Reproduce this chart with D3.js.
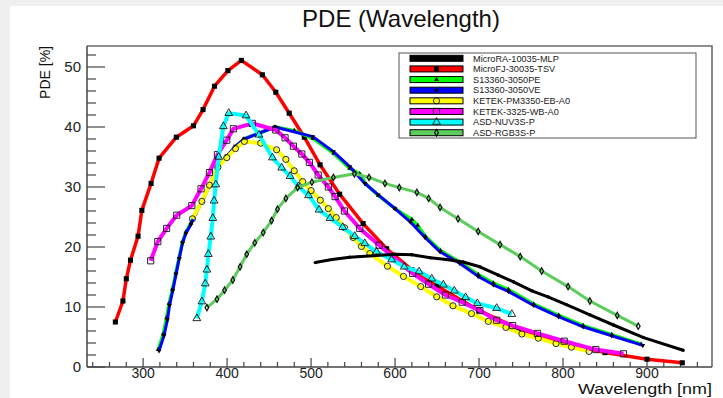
<!DOCTYPE html>
<html><head><meta charset="utf-8">
<script src="https://cdn.jsdelivr.net/npm/d3@7"></script>
<style>
html,body{margin:0;padding:0;background:#f0f0f0;}
svg{display:block;font-family:"Liberation Sans",Arial,Helvetica,sans-serif;}
</style></head><body>
<svg id="chart" width="723" height="398"></svg>
<script>
// Photon detection efficiency vs wavelength, one pair of arrays per sensor
const raWl  = [505,525,546,578,600,620,642,661,681,701,723,741,763,782,804,832,860,896,943];
const raPde = [17.4,17.9,18.3,18.6,18.8,18.7,18.2,17.9,17.5,16.7,15.3,14.2,12.7,11.7,10.4,8.7,7.0,4.9,2.8];

const fjWl  = [267,276,280,285,294,298.5,309.5,319,339.6,360,371.4,385,401,417,442,458,474,492,510.7,534,562,590,620,650,700,747,800,850,900,942];
const fjPde = [7.5,11.0,14.7,17.8,21.8,26.1,30.6,34.8,38.3,40.2,42.9,46.8,49.4,51.1,48.7,45.8,42.3,38.3,33.7,28.8,23.9,19.7,16.2,13.5,9.4,6.4,4.0,2.4,1.3,0.7];

const peWl  = [318,324,328,331,335,339,343,347,351,357,362,370,379,388,420,457,480,502,527,546,558,566,580,600,620,627,636,654,677,699,717,735,765,795,824,858,893];
const pePde = [2.9,5.5,8.2,10.6,13.0,15.7,18.3,20.9,22.5,24.0,25.6,27.6,30.3,33.2,38.0,40.0,39.4,38.1,35.6,33.1,32.2,30.4,28.6,26.4,24.6,23.6,21.8,19.4,17.5,15.4,14.0,12.9,10.5,8.6,6.9,5.4,3.8];

const veWl  = [319,325,329,331.5,335.4,339.3,343,347,351,357,362,370,379,388,400,410,420.6,457,502,526.6,546,564,580,600,618,635.7,653.6,677,699,717,735,764.7,794.6,824,858,895];
const vePde = [2.7,5.3,7.9,10.3,12.8,15.5,18.1,20.7,22.3,23.8,25.4,27.5,30.2,33.1,35.2,36.8,38.0,40.0,38.4,35.9,33.4,30.6,28.7,26.4,24.2,21.6,19.2,17.3,15.1,13.7,12.6,10.3,8.4,6.7,5.2,3.6];

const ebWl  = [358.7,370,379,389,399.6,410,420.6,440,459,470,480,490,500,511,520.6,530,540,550,560,570,591,610,630.6,649.6,669,691,711,732,751,770.6,791.7,810,831];
const ebPde = [24.7,27.6,30.3,33.3,34.9,36.4,37.6,37.3,36.2,34.6,32.7,30.9,29.4,27.8,26.4,24.9,23.2,21.6,20.1,18.9,16.8,15.1,13.4,11.7,10.2,8.9,7.6,6.6,5.5,4.8,3.9,3.3,2.6];

const wbWl  = [309,317.5,328,340,358,369,379,388.5,399.6,407.5,430,458,469,479,489,498,508.5,520.6,528.6,539.7,558,581,621,640,660,680,701,721,740,769.6,801.5,839,872];
const wbPde = [17.7,20.9,23.1,25.3,26.9,29.7,32.4,35.4,37.8,39.7,40.6,39.5,38.2,36.8,35.5,34.1,32.0,30.0,28.4,26.0,23.1,20.3,15.6,13.8,12.0,10.8,9.4,7.8,6.9,5.6,4.3,2.9,2.2];

const nuvWl  = [364,370,374,376,377.7,380.6,383,384.5,386.5,390,395.6,402,422.6,438,454,465,475,485,497,509.5,522.6,537.7,552,564,578,596,611,628.6,643.7,657.5,670.6,684,698,721,739];
const nuvPde = [8.1,10.9,13.9,16.2,18.8,21.7,24.8,27.7,30.4,35.0,40.1,42.3,41.9,38.7,34.9,33.2,31.8,30.1,28.6,26.2,24.8,23.3,21.8,20.6,19.2,17.9,16.7,15.9,14.7,13.7,12.7,11.6,10.6,9.8,8.8];

const rgbWl  = [376,388,397,406.8,415.5,423.4,433,443,453,460,470,484,501,526.6,551.6,569,588,605,626,640,653.6,675,699,725,749,774.6,806,832,864.6,889.6];
const rgbPde = [9.9,11.3,12.8,14.5,16.7,18.8,20.7,22.4,24.4,26.3,28.1,29.9,30.8,31.6,32.2,31.6,30.6,29.9,29.1,28.1,26.6,24.7,22.6,20.4,18.4,16.0,13.4,11.0,8.6,6.8];

const seriesNames = ["MicroRA-10035-MLP","MicroFJ-30035-TSV","S13360-3050PE","S13360-3050VE","KETEK-PM3350-EB-A0","KETEK-3325-WB-A0","ASD-NUV3S-P","ASD-RGB3S-P"];
const seriesColors = ["#000000","#ff0000","#00ff00","#0000ff","#ffff00","#ff00ff","#00ffff","#5ccd5c"];

const xTickValues = [300,400,500,600,700,800,900];
const yTickValues = [0,10,20,30,40,50];

const titleText = "PDE (Wavelength)";
const xTitle = "Wavelength [nm]";
const yTitle = "PDE [%]";

// ---- layout ----
const W = 723, H = 398;
const plot = {left: 87, right: 712, top: 46, bottom: 367};

const svg = d3.select("#chart");
svg.append("rect").attr("x", 10).attr("y", 6).attr("width", W - 10).attr("height", H - 6).attr("fill", "#ffffff");

const x = d3.scaleLinear().domain([233.2, 977.4]).range([plot.left, plot.right]);
const y = d3.scaleLinear().domain([0, 53.5]).range([plot.bottom, plot.top]);

// frame
svg.append("path")
  .attr("d", `M${plot.left},${plot.top}H${plot.right}V${plot.bottom}`)
  .attr("fill", "none").attr("stroke", "#6b6b6b").attr("stroke-width", 1.6);

// axes with ROOT-like ticks (ticks drawn inside the frame)
const axisColor = "#444";
const xMinor = d3.range(240, 977, 20);
const yMinor = d3.range(0, 53.5, 2);

const gx = svg.append("g");
gx.append("line").attr("x1", plot.left).attr("x2", plot.right).attr("y1", plot.bottom).attr("y2", plot.bottom)
  .attr("stroke", axisColor).attr("stroke-width", 1.5);
gx.selectAll("line.minor").data(xMinor).join("line").attr("class", "minor")
  .attr("x1", d => x(d)).attr("x2", d => x(d))
  .attr("y1", plot.bottom).attr("y2", d => plot.bottom - (d % 100 === 0 ? 9 : 5))
  .attr("stroke", axisColor).attr("stroke-width", 1.2);
gx.selectAll("text").data(xTickValues).join("text")
  .attr("x", d => x(d)).attr("y", 378)
  .attr("text-anchor", "middle").attr("font-size", 14).attr("fill", "#222")
  .text(d => d);

const gy = svg.append("g");
gy.append("line").attr("x1", plot.left).attr("x2", plot.left).attr("y1", plot.top).attr("y2", plot.bottom)
  .attr("stroke", axisColor).attr("stroke-width", 1.5);
gy.selectAll("line.minor").data(yMinor).join("line").attr("class", "minor")
  .attr("x1", plot.left).attr("x2", d => plot.left + (d % 10 === 0 ? 18 : 9))
  .attr("y1", d => y(d)).attr("y2", d => y(d))
  .attr("stroke", axisColor).attr("stroke-width", 1.2);
gy.selectAll("text").data(yTickValues).join("text")
  .attr("x", 81).attr("y", d => y(d) + 5)
  .attr("text-anchor", "end").attr("font-size", 15).attr("fill", "#222")
  .text(d => d);

// titles
svg.append("text").attr("x", 401).attr("y", 27).attr("text-anchor", "middle")
  .attr("font-size", 24).attr("fill", "#111").text(titleText);
svg.append("text").attr("x", 712).attr("y", 394).attr("text-anchor", "end")
  .attr("font-size", 14).attr("textLength", 134).attr("lengthAdjust", "spacingAndGlyphs")
  .attr("fill", "#111").text(xTitle);
svg.append("text").attr("transform", "translate(50,46) rotate(-90)").attr("text-anchor", "end")
  .attr("font-size", 14).attr("fill", "#111").text(yTitle);

// marker shapes
function markerPath(kind) {
  switch (kind) {
    case "dot": return d3.symbol(d3.symbolCircle, 9)();
    case "fsquare": return d3.symbol(d3.symbolSquare, 26)();
    case "utri": return d3.symbol(d3.symbolTriangle, 10)();
    case "dtri": return d3.symbol(d3.symbolTriangle, 10)();
    case "ocircle": return d3.symbol(d3.symbolCircle, 30)();
    case "osquare": return d3.symbol(d3.symbolSquare, 38)();
    case "otri": return d3.symbol(d3.symbolTriangle, 26)();
    case "diamond": return d3.symbol(d3.symbolDiamond, 12)();
  }
}
const markerKinds = ["dot","fsquare","utri","dtri","ocircle","osquare","otri","diamond"];
const lineWidths = [3, 3.5, 3.5, 3, 4, 4, 4, 3];
const wlArrays = [raWl, fjWl, peWl, veWl, ebWl, wbWl, nuvWl, rgbWl];
const pdeArrays = [raPde, fjPde, pePde, vePde, ebPde, wbPde, nuvPde, rgbPde];

function styleMarker(sel, kind) {
  const filled = kind === "dot" || kind === "fsquare" || kind === "utri" || kind === "dtri";
  sel.attr("fill", filled ? "#000" : "none")
     .attr("stroke", filled ? "none" : "#111")
     .attr("stroke-width", kind === "diamond" ? 1.2 : 0.9);
}
function rot(kind) { return kind === "dtri" ? " rotate(180)" : ""; }

const line = d3.line().x(d => x(d[0])).y(d => y(d[1]));
const plotArea = svg.append("g");

// draw order: the MicroRA curve is drawn last so it sits on top
const order = [1, 2, 3, 4, 5, 6, 7, 0];
order.forEach(i => {
  const pts = d3.zip(wlArrays[i], pdeArrays[i]);
  const g = plotArea.append("g");
  g.append("path").attr("d", line(pts)).attr("fill", "none")
    .attr("stroke", seriesColors[i]).attr("stroke-width", lineWidths[i])
    .attr("stroke-linejoin", "round");
  const kind = markerKinds[i];
  g.selectAll("path.m").data(pts).join("path").attr("class", "m")
    .attr("d", markerPath(kind))
    .attr("transform", d => `translate(${x(d[0])},${y(d[1])})${rot(kind)}`)
    .call(styleMarker, kind);
});

// legend
const leg = {x: 399, y: 53, w: 297, h: 85};
const lg = svg.append("g");
lg.append("rect").attr("x", leg.x).attr("y", leg.y).attr("width", leg.w).attr("height", leg.h)
  .attr("fill", "#fff").attr("stroke", "#555").attr("stroke-width", 1);
const rowH = 10.63, row0 = 58.3;
seriesNames.forEach((name, i) => {
  const cy = row0 + i * rowH;
  lg.append("rect").attr("x", 410).attr("y", cy - 3).attr("width", 53).attr("height", 6)
    .attr("fill", seriesColors[i]).attr("stroke", "#000").attr("stroke-width", 1);
  const kind = markerKinds[i];
  lg.append("path").attr("d", markerPath(kind))
    .attr("transform", `translate(436.5,${cy})${rot(kind)}`)
    .call(styleMarker, kind);
  lg.append("text").attr("x", 473).attr("y", cy + 3.3).attr("font-size", 9.2).attr("fill", "#222").text(name);
});
</script>
</body></html>
